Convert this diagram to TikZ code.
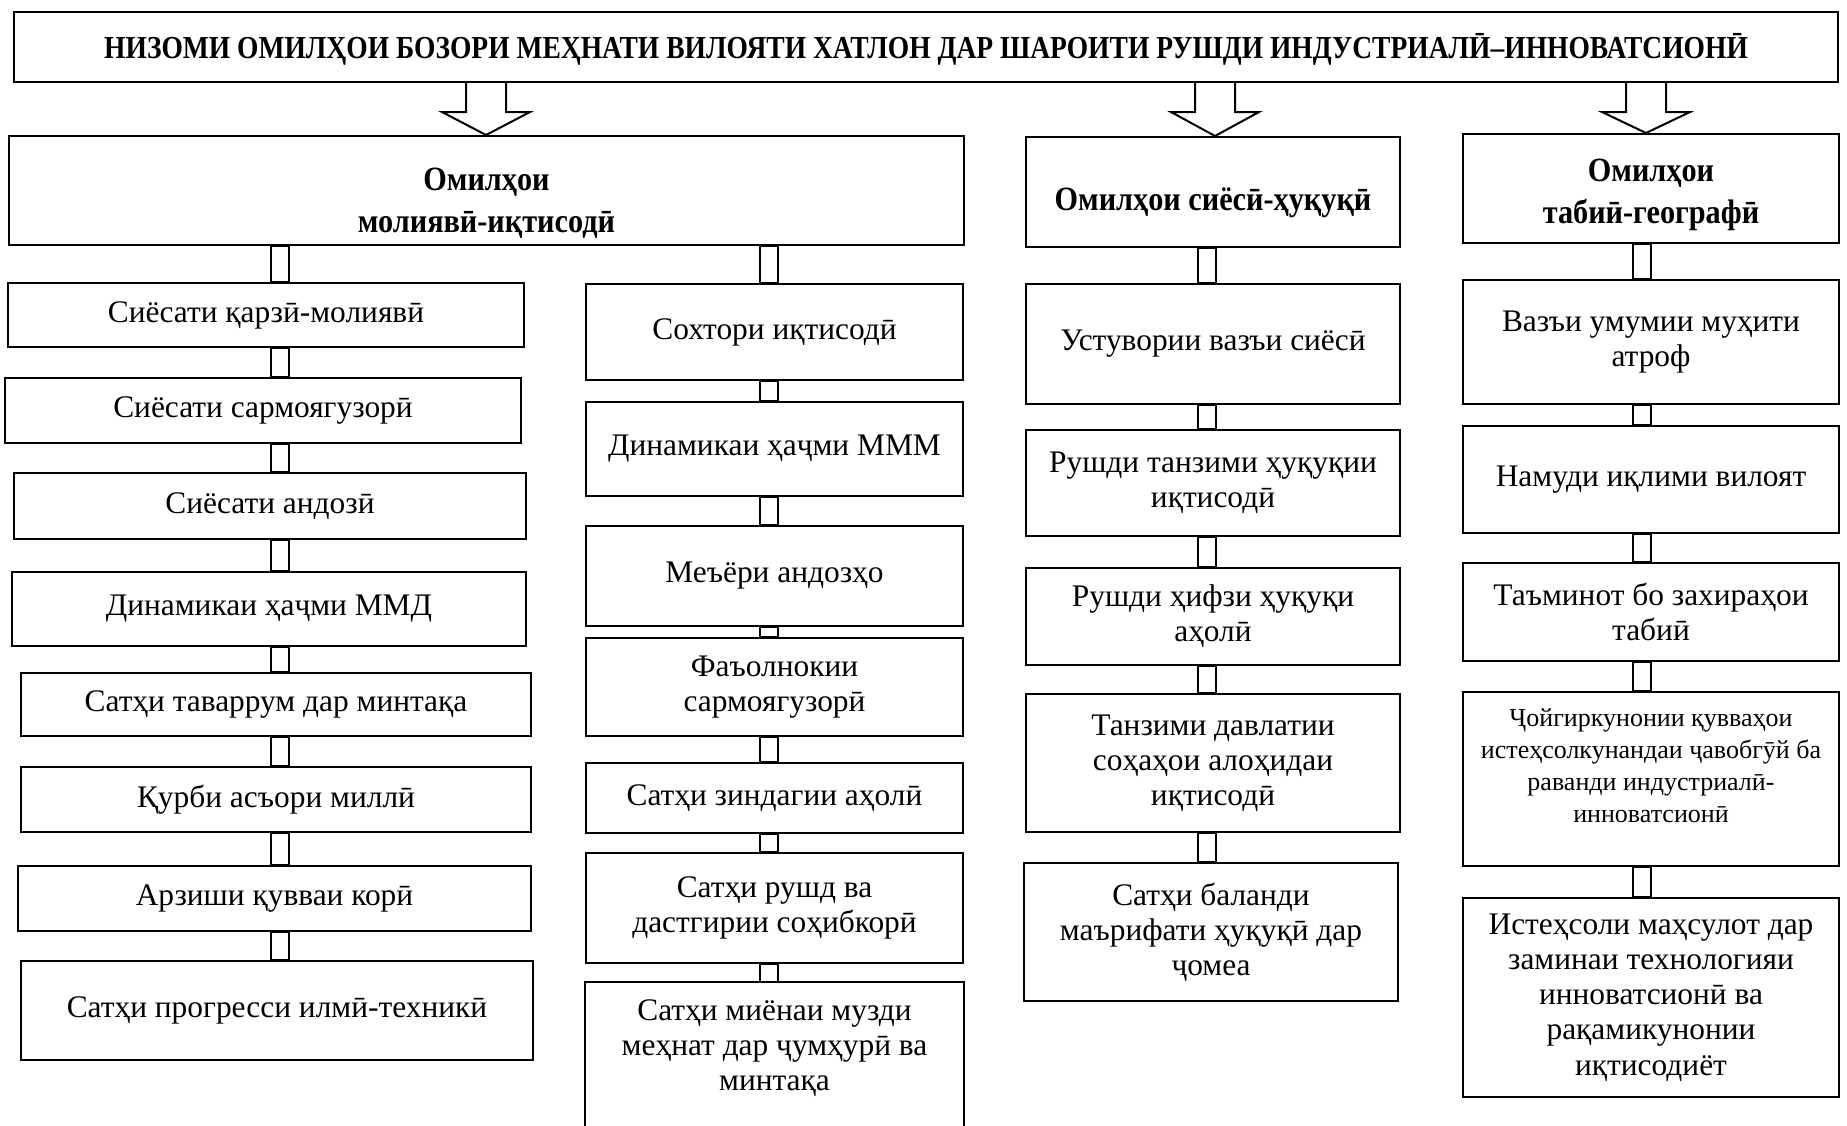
\documentclass[tikz,border=0pt]{standalone}
\usepackage{fontspec}
\setmainfont{Liberation Serif}
\newfontfamily\hdfont[FakeStretch=0.89]{Liberation Serif}
\newfontfamily\ttlfont[FakeStretch=0.86]{Liberation Serif}
\usetikzlibrary{calc}

% box from (x1,y1) to (x2,y2), pixel units, y downwards
\newcommand{\bx}[7][box]{%
  \node[#1, minimum width={(#5-#3)*0.5pt}, minimum height={(#6-#4)*0.5pt}]
    (#2) at ({(#3+#5)/2},{(#4+#6)/2}) {#7};}
% hollow link between two boxes, on column #3
\newcommand{\lnk}[3]{%
  \draw[link] ($(#1.south -| #3)+(-9,0)$) rectangle ($(#2.north -| #3)+(9,0)$);}
% hollow block arrow from #1 to #2 on column #3
\newcommand{\fatarrow}[3]{%
  \coordinate (t) at (#1.south -| #3);
  \coordinate (h) at (#2.north -| #3);
  \draw[fat] ($(t)+(-20,0)$) -- ($(t)+(-20,29)$) -- ($(t)+(-44,29)$) -- (h)
    -- ($(t)+(44,29)$) -- ($(t)+(20,29)$) -- ($(t)+(20,0)$);}

\begin{document}
\begin{tikzpicture}[x=0.5pt, y=-0.5pt,
    box/.style={draw, line width=1pt, align=center, inner sep=2pt,
      font=\fontsize{15.7}{17.6}\selectfont},
    head/.style={box, font=\hdfont\bfseries\fontsize{17}{21}\selectfont},
    small/.style={box, font=\fontsize{13}{16}\selectfont},
    link/.style={draw, line width=1pt, fill=white},
    fat/.style={draw, line width=1pt, fill=white}]
  \useasboundingbox (0,0) rectangle (1847,1125);

  \bx[head]{top}{14}{12}{1838}{82}{\ttlfont\fontsize{16}{18}\selectfont\rule{0pt}{15pt}%
    НИЗОМИ ОМИЛҲОИ БОЗОРИ МЕҲНАТИ ВИЛОЯТИ ХАТЛОН ДАР ШАРОИТИ РУШДИ ИНДУСТРИАЛӢ–ИННОВАТСИОНӢ}

  \bx[head]{h1}{9}{136}{964}{245}{\rule{0pt}{24pt}Омилҳои\\ молиявӣ-иқтисодӣ}
  \bx[head]{h2}{1026}{137}{1400}{247}{\rule{0pt}{22pt}Омилҳои сиёсӣ-ҳуқуқӣ}
  \bx[head]{h3}{1463}{134}{1839}{243}{\rule{0pt}{18pt}Омилҳои\\ табиӣ-географӣ}

  % first column
  \bx{a1}{8}{283}{524}{347}{Сиёсати қарзӣ-молиявӣ}
  \bx{a2}{5}{378}{521}{443}{Сиёсати сармоягузорӣ}
  \bx{a3}{14}{473}{526}{539}{Сиёсати андозӣ}
  \bx{a4}{12}{572}{526}{646}{Динамикаи ҳаҷми ММД}
  \bx{a5}{21}{673}{531}{736}{Сатҳи таваррум дар минтақа}
  \bx{a6}{21}{767}{531}{832}{Қурби асъори миллӣ}
  \bx{a7}{18}{866}{531}{931}{Арзиши қувваи корӣ}
  \bx{a8}{21}{961}{533}{1060}{Сатҳи прогресси илмӣ-техникӣ}

  % second column
  \bx{b1}{586}{284}{963}{380}{Сохтори иқтисодӣ}
  \bx{b2}{586}{402}{963}{496}{Динамикаи ҳаҷми МММ}
  \bx{b3}{586}{526}{963}{626}{Меъёри андозҳо}
  \bx{b4}{586}{638}{963}{736}{Фаъолнокии\\ сармоягузорӣ}
  \bx{b5}{586}{763}{963}{833}{Сатҳи зиндагии аҳолӣ}
  \bx{b6}{586}{853}{963}{963}{Сатҳи рушд ва\\ дастгирии соҳибкорӣ}
  \bx[box, draw=none]{b7}{586}{983}{963}{1113}{Сатҳи миёнаи музди\\ меҳнат дар ҷумҳурӣ ва\\ минтақа}
  \coordinate (pgbot) at (0,1127);
  \draw[line width=1pt] (b7.south west |- pgbot) -- (b7.north west)
    -- (b7.north east) -- (b7.south east |- pgbot);

  % third column
  \bx{c1}{1026}{284}{1400}{404}{Устувории вазъи сиёсӣ}
  \bx{c2}{1026}{430}{1400}{536}{Рушди танзими ҳуқуқии\\ иқтисодӣ}
  \bx{c3}{1026}{568}{1400}{665}{Рушди ҳифзи ҳуқуқи\\ аҳолӣ}
  \bx{c4}{1026}{694}{1400}{832}{Танзими давлатии\\ соҳаҳои алоҳидаи\\ иқтисодӣ}
  \bx{c5}{1024}{863}{1398}{1001}{Сатҳи баланди\\ маърифати ҳуқуқӣ дар\\ ҷомеа}

  % fourth column
  \bx{d1}{1463}{280}{1839}{404}{Вазъи умумии муҳити\\ атроф}
  \bx{d2}{1463}{426}{1839}{533}{Намуди иқлими вилоят}
  \bx{d3}{1463}{563}{1839}{661}{Таъминот бо захираҳои\\ табиӣ}
  \bx[small]{d4}{1463}{692}{1839}{866}{Ҷойгиркунонии қувваҳои\\ истеҳсолкунандаи ҷавобгӯй ба\\ раванди индустриалӣ-\\ инноватсионӣ\rule[-13pt]{0pt}{1pt}}
  \bx{d5}{1463}{898}{1839}{1097}{Истеҳсоли маҳсулот дар\\ заминаи технологияи\\ инноватсионӣ ва\\ рақамикунонии\\ иқтисодиёт}

  \coordinate (ar1) at (486,0);
  \coordinate (ar2) at (1215,0);
  \coordinate (ar3) at (1646,0);
  \fatarrow{top}{h1}{ar1}
  \fatarrow{top}{h2}{ar2}
  \fatarrow{top}{h3}{ar3}

  \coordinate (ka) at (280,0);
  \coordinate (kb) at (769,0);
  \coordinate (kc) at (1207,0);
  \coordinate (kd) at (1642,0);
  \foreach \u/\v in {h1/a1,a1/a2,a2/a3,a3/a4,a4/a5,a5/a6,a6/a7,a7/a8}
    {\lnk{\u}{\v}{ka}}
  \foreach \u/\v in {h1/b1,b1/b2,b2/b3,b3/b4,b4/b5,b5/b6,b6/b7}
    {\lnk{\u}{\v}{kb}}
  \foreach \u/\v in {h2/c1,c1/c2,c2/c3,c3/c4,c4/c5}
    {\lnk{\u}{\v}{kc}}
  \foreach \u/\v in {h3/d1,d1/d2,d2/d3,d3/d4,d4/d5}
    {\lnk{\u}{\v}{kd}}
\end{tikzpicture}
\end{document}
